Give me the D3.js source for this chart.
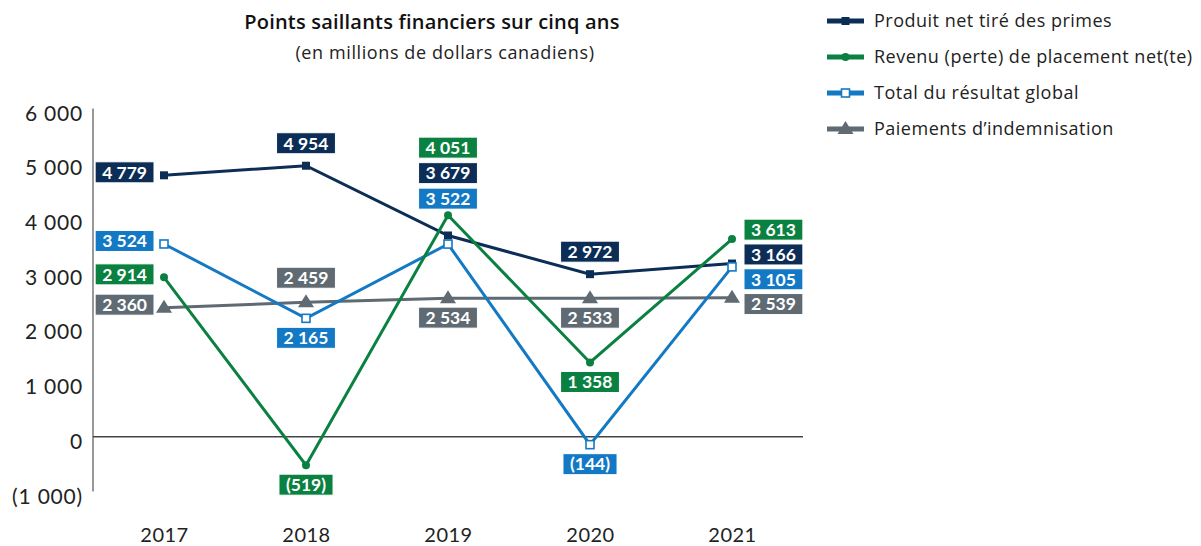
<!DOCTYPE html>
<html lang="fr">
<head>
  <meta charset="UTF-8">
  <title>Points saillants financiers sur cinq ans</title>
  <script src="https://d3js.org/d3.v7.min.js"></script>
  <style>
    body {
      margin: 0;
      background: #fff;
      font-family: Lato, "Open Sans", sans-serif;
    }
  </style>
</head>
<body>
  <script>
    const width = 1201;
    const height = 546;

    // data
    const years = ["2017", "2018", "2019", "2020", "2021"];
    const seriesNames = [
      "Produit net tiré des primes",
      "Revenu (perte) de placement net(te)",
      "Total du résultat global",
      "Paiements d’indemnisation"
    ];
    const primes = [4779, 4954, 3679, 2972, 3166];
    const placement = [2914, -519, 4051, 1358, 3613];
    const resultat = [3524, 2165, 3522, -144, 3105];
    const indemnisation = [2360, 2459, 2534, 2533, 2539];
    const yTicks = [-1000, 0, 1000, 2000, 3000, 4000, 5000, 6000];

    // where each value label sits, per year
    const labelPlace = [
      ["left", "above", "stackAbove", "above", "stackRight"],
      ["left", "below", "stackAbove", "below", "stackRight"],
      ["left", "below", "stackAbove", "below", "stackRight"],
      ["left", "above", "below", "below", "stackRight"]
    ];

    const colors = ["#0c2d55", "#0b8141", "#1479c4", "#5f6a73"];
    const markers = ["square", "circle", "openSquare", "triangle"];
    const allValues = [primes, placement, resultat, indemnisation];

    const series = seriesNames.map((name, i) => ({
      name, color: colors[i], marker: markers[i],
      values: allValues[i].map((v, j) => ({ year: years[j], value: v, place: labelPlace[i][j] }))
    }));

    const fmt = v => {
      const s = d3.format(",")(Math.abs(v)).replace(/,/g, " ");
      return v < 0 ? `(${s})` : s;
    };

    const svg = d3.select("body").append("svg")
      .attr("width", width)
      .attr("height", height);

    const x = d3.scalePoint().domain(years).range([164, 732]);
    const y = d3.scaleLinear().domain([-1000, 6000]).range([491.5, 108.5]);

    // title
    svg.append("text").attr("x", 432).attr("y", 29)
      .attr("text-anchor", "middle").attr("font-family", "'Open Sans', sans-serif")
      .attr("font-size", 20).attr("font-weight", 600).attr("letter-spacing", 0.2)
      .attr("fill", "#111").text("Points saillants financiers sur cinq ans");
    svg.append("text").attr("x", 445).attr("y", 59)
      .attr("text-anchor", "middle").attr("font-family", "'Open Sans', sans-serif")
      .attr("font-size", 18).attr("letter-spacing", 0.6)
      .attr("fill", "#222").text("(en millions de dollars canadiens)");

    // y axis
    const yAxis = svg.append("g").attr("transform", "translate(83,0)")
      .call(d3.axisLeft(y).tickValues(yTicks).tickSize(0).tickFormat(fmt));
    yAxis.select(".domain").remove();
    yAxis.selectAll("text")
      .attr("font-family", "Lato, sans-serif").attr("font-size", 21)
      .attr("letter-spacing", 0.8)
      .attr("fill", "#222").attr("dy", "0.55em").attr("x", 0);

    svg.append("line").attr("x1", 93).attr("x2", 93)
      .attr("y1", y(6000)).attr("y2", y(-1000))
      .attr("stroke", "#777").attr("stroke-width", 1.5);
    svg.append("line").attr("x1", 93).attr("x2", 803)
      .attr("y1", y(0)).attr("y2", y(0))
      .attr("stroke", "#444").attr("stroke-width", 1.5);

    // x axis labels
    const xAxis = svg.append("g").attr("transform", "translate(0,535)")
      .call(d3.axisBottom(x).tickSize(0));
    xAxis.select(".domain").remove();
    xAxis.selectAll("text")
      .attr("font-family", "Lato, sans-serif").attr("font-size", 20)
      .attr("letter-spacing", 0.5)
      .attr("fill", "#222").attr("dy", "0.35em").attr("y", 0);

    // markers
    function drawMarker(g, type, color, cx, cy) {
      if (type === "square") {
        g.append("rect").attr("x", cx - 4).attr("y", cy - 4).attr("width", 8).attr("height", 8).attr("fill", color);
      } else if (type === "circle") {
        g.append("circle").attr("cx", cx).attr("cy", cy).attr("r", 4).attr("fill", color);
      } else if (type === "openSquare") {
        g.append("rect").attr("x", cx - 4).attr("y", cy - 4).attr("width", 8).attr("height", 8)
          .attr("fill", "#fff").attr("stroke", color).attr("stroke-width", 1.6);
      } else {
        g.append("path").attr("d", `M${cx},${cy - 8}L${cx + 8},${cy + 5}L${cx - 8},${cy + 5}Z`).attr("fill", color);
      }
    }

    const line = d3.line().x(d => x(d.year)).y(d => y(d.value));

    // draw back to front
    const drawOrder = [3, 0, 2, 1];
    drawOrder.forEach(i => {
      const s = series[i];
      svg.append("path").datum(s.values).attr("d", line)
        .attr("fill", "none").attr("stroke", s.color).attr("stroke-width", 3);
    });
    drawOrder.forEach(i => {
      const s = series[i];
      const g = svg.append("g");
      s.values.forEach(d => drawMarker(g, s.marker, s.color, x(d.year), y(d.value)));
    });

    // value labels
    const boxH = 21;
    const labels = svg.append("g").attr("font-family", "Lato, sans-serif")
      .attr("font-size", 17.5).attr("font-weight", 700);

    function addLabel(d, color, cx, cy, anchor) {
      const g = labels.append("g");
      const t = g.append("text").attr("fill", "#fff").attr("dy", "0.36em").text(fmt(d.value));
      const w = t.node().getComputedTextLength() + 14;
      let left;
      if (anchor === "right") left = cx - w;
      else if (anchor === "left") left = cx;
      else left = cx - w / 2;
      g.insert("rect", "text").attr("x", left).attr("y", cy - boxH / 2)
        .attr("width", w).attr("height", boxH).attr("fill", color)
        .attr("stroke", "#fff").attr("stroke-width", 1);
      t.attr("x", left + 7).attr("y", cy);
    }

    years.forEach(yr => {
      const items = series.map(s => ({ s, d: s.values.find(v => v.year === yr) }));
      const px = x(yr);
      const stackAbove = items.filter(o => o.d.place === "stackAbove").sort((a, b) => b.d.value - a.d.value);
      const stackRight = items.filter(o => o.d.place === "stackRight").sort((a, b) => b.d.value - a.d.value);

      items.forEach(o => {
        const py = y(o.d.value);
        if (o.d.place === "left") addLabel(o.d, o.s.color, px - 10, py - 3, "right");
        else if (o.d.place === "above") addLabel(o.d, o.s.color, px, py - 12 - boxH / 2 - (o.s.marker === "triangle" ? 2 : 0), "center");
        else if (o.d.place === "below") addLabel(o.d, o.s.color, px, py + 9 + boxH / 2, "center");
      });

      if (stackAbove.length) {
        const top = d3.min(stackAbove, o => y(o.d.value));
        const bottom = top - 6;
        stackAbove.forEach((o, k) => {
          const cy = bottom - boxH / 2 - (stackAbove.length - 1 - k) * 25.5;
          addLabel(o.d, o.s.color, px, cy, "center");
        });
      }
      if (stackRight.length) {
        const mid = d3.mean(stackRight, o => y(o.d.value));
        stackRight.forEach((o, k) => {
          const cy = mid + (k - (stackRight.length - 1) / 2) * 24.8;
          addLabel(o.d, o.s.color, px + 12, cy, "left");
        });
      }
    });

    // legend
    const legend = svg.append("g").attr("font-family", "'Open Sans', sans-serif")
      .attr("font-size", 18).attr("letter-spacing", 0.5);
    series.forEach((s, i) => {
      const ly = 21 + i * 36;
      const g = legend.append("g");
      g.append("line").attr("x1", 827).attr("x2", 864).attr("y1", ly).attr("y2", ly)
        .attr("stroke", s.color).attr("stroke-width", 5);
      drawMarker(g, s.marker, s.color, 845.5, ly);
      g.append("text").attr("x", 874).attr("y", ly).attr("dy", "0.35em")
        .attr("fill", "#222").text(s.name);
    });
  </script>
</body>
</html>
